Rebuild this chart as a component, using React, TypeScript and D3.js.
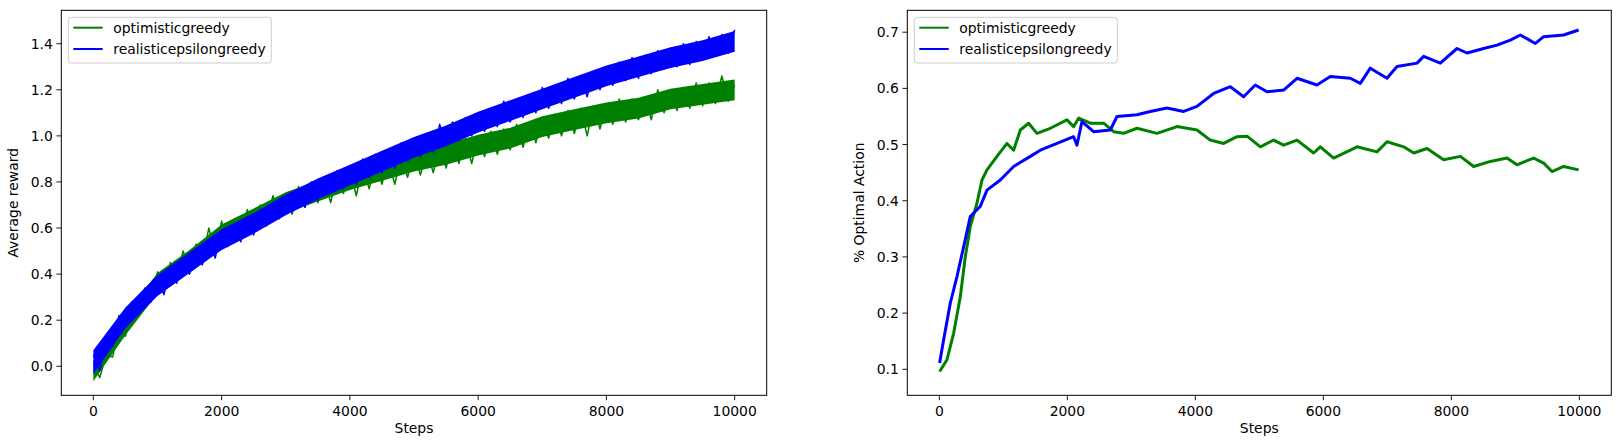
import React from 'react';
import * as d3 from 'd3';

// left panel: average reward, sampled every 100 steps (noise read as high/low zigzag)
const rewardSteps = d3.range(0, 10001, 100);
const rewardOptimistic = [
  0.01, -0.05, 0.05, 0.04, 0.16, 0.13, 0.27, 0.22, 0.34, 0.29,
  0.41, 0.34, 0.45, 0.38, 0.50, 0.42, 0.53, 0.46, 0.60, 0.49,
  0.63, 0.53, 0.64, 0.56, 0.68, 0.59, 0.70, 0.62, 0.74, 0.65,
  0.75, 0.66, 0.78, 0.69, 0.80, 0.71, 0.82, 0.71, 0.83, 0.75,
  0.85, 0.74, 0.87, 0.77, 0.88, 0.79, 0.90, 0.79, 0.91, 0.82,
  0.93, 0.83, 0.94, 0.84, 0.96, 0.86, 0.97, 0.88, 0.99, 0.88,
  1.00, 0.91, 1.02, 0.92, 1.03, 0.94, 1.05, 0.95, 1.06, 0.97,
  1.08, 0.99, 1.09, 1.00, 1.11, 1.01, 1.12, 1.00, 1.13, 1.03,
  1.14, 1.05, 1.16, 1.06, 1.16, 1.07, 1.17, 1.07, 1.20, 1.10,
  1.20, 1.11, 1.21, 1.12, 1.23, 1.13, 1.23, 1.14, 1.26, 1.15,
  1.22,
];
const rewardRealistic = [
  0.05, -0.02, 0.13, 0.09, 0.22, 0.17, 0.28, 0.23, 0.33, 0.28,
  0.38, 0.31, 0.43, 0.36, 0.47, 0.40, 0.51, 0.44, 0.55, 0.47,
  0.59, 0.52, 0.62, 0.54, 0.65, 0.57, 0.68, 0.61, 0.71, 0.64,
  0.74, 0.67, 0.77, 0.69, 0.80, 0.72, 0.82, 0.75, 0.85, 0.77,
  0.87, 0.79, 0.90, 0.82, 0.92, 0.84, 0.94, 0.86, 0.97, 0.89,
  0.99, 0.91, 1.01, 0.93, 1.05, 0.96, 1.06, 0.98, 1.08, 1.00,
  1.10, 1.02, 1.12, 1.04, 1.15, 1.06, 1.16, 1.08, 1.18, 1.10,
  1.21, 1.12, 1.22, 1.14, 1.25, 1.16, 1.26, 1.17, 1.28, 1.20,
  1.30, 1.22, 1.32, 1.24, 1.34, 1.25, 1.35, 1.27, 1.37, 1.29,
  1.38, 1.30, 1.40, 1.31, 1.41, 1.33, 1.43, 1.35, 1.44, 1.36,
  1.46,
];

// visible envelope of each noisy reward band, every 500 steps
const envSteps = d3.range(0, 10001, 500);
const optimisticLow = [-0.065, 0.135, 0.315, 0.415, 0.525, 0.595, 0.665, 0.715, 0.765, 0.805, 0.845, 0.875, 0.915, 0.945, 0.995, 1.025, 1.055, 1.075, 1.115, 1.135, 1.155];
const optimisticHigh = [0.025, 0.225, 0.405, 0.505, 0.615, 0.685, 0.755, 0.805, 0.855, 0.895, 0.935, 0.965, 1.005, 1.035, 1.085, 1.115, 1.145, 1.165, 1.205, 1.225, 1.245];
const realisticLow = [-0.035, 0.165, 0.305, 0.405, 0.505, 0.575, 0.655, 0.725, 0.785, 0.845, 0.905, 0.955, 1.015, 1.065, 1.115, 1.165, 1.215, 1.255, 1.295, 1.325, 1.365];
const realisticHigh = [0.07, 0.255, 0.395, 0.495, 0.595, 0.665, 0.745, 0.815, 0.875, 0.935, 0.995, 1.045, 1.105, 1.155, 1.205, 1.255, 1.305, 1.345, 1.385, 1.415, 1.455];

// right panel: % optimal action
const optimalStepsOpt = [
  5, 120, 224, 328, 406, 484, 589, 667, 745, 901, 1057, 1161, 1266, 1396, 1526, 1734,
  1995, 2099, 2177, 2359, 2568, 2724, 2880, 3089, 3401, 3714, 4026, 4234, 4443, 4651,
  4807, 5016, 5224, 5380, 5589, 5849, 5953, 6161, 6422, 6526, 6839, 6995, 7256, 7412,
  7620, 7880, 8141, 8349, 8609, 8870, 9026, 9287, 9443, 9573, 9755, 9989,
];
const optimalOptimistic = [
  0.096, 0.117, 0.164, 0.229, 0.300, 0.354, 0.396, 0.437, 0.455, 0.479, 0.502, 0.490, 0.526, 0.538, 0.520, 0.529,
  0.544, 0.532, 0.547, 0.538, 0.538, 0.523, 0.520, 0.529, 0.520, 0.532, 0.526, 0.508, 0.502, 0.514,
  0.515, 0.496, 0.508, 0.499, 0.508, 0.485, 0.496, 0.476, 0.490, 0.496, 0.487, 0.505, 0.496, 0.485,
  0.493, 0.473, 0.479, 0.461, 0.470, 0.476, 0.464, 0.476, 0.467, 0.452, 0.461, 0.455,
];
const optimalStepsReal = [
  5, 67, 172, 276, 380, 484, 640, 745, 953, 1161, 1422, 1578, 1839, 2099, 2151, 2229,
  2411, 2672, 2776, 3089, 3297, 3557, 3818, 4026, 4286, 4547, 4755, 4937, 5120, 5380,
  5589, 5901, 6109, 6422, 6578, 6734, 6995, 7151, 7464, 7568, 7828, 8089, 8245, 8505,
  8714, 8922, 9078, 9313, 9443, 9755, 9989,
];
const optimalRealistic = [
  0.111, 0.152, 0.218, 0.265, 0.318, 0.372, 0.390, 0.419, 0.437, 0.461, 0.479, 0.490, 0.502, 0.514, 0.499, 0.541,
  0.523, 0.526, 0.550, 0.553, 0.559, 0.565, 0.559, 0.568, 0.591, 0.603, 0.585, 0.606, 0.594, 0.597,
  0.618, 0.606, 0.621, 0.618, 0.609, 0.636, 0.618, 0.639, 0.645, 0.657, 0.645, 0.671, 0.663, 0.671,
  0.677, 0.686, 0.695, 0.680, 0.692, 0.695, 0.704,
];

const xTicks = [0, 2000, 4000, 6000, 8000, 10000];
const rewardTicks = [0.0, 0.2, 0.4, 0.6, 0.8, 1.0, 1.2, 1.4];
const optimalTicks = [0.1, 0.2, 0.3, 0.4, 0.5, 0.6, 0.7];
const seriesNames = ['optimisticgreedy', 'realisticepsilongreedy'];
const seriesColors = ['green', 'blue'];

const FONT = 'DejaVu Sans, sans-serif';
const TOP = 10.3;
const BOTTOM = 395.3;

interface Band { steps: number[]; low: number[]; high: number[]; }
interface Series { steps: number[]; values: number[]; color: string; band?: Band; }

interface PanelProps {
  left: number;
  right: number;
  yDomain: [number, number];
  yTicks: number[];
  yLabel: string;
  yLabelX: number;
  series: Series[];
  strokeWidth: number;
}

const Panel: React.FC<PanelProps> = ({ left, right, yDomain, yTicks, yLabel, yLabelX, series, strokeWidth }) => {
  const x = d3.scaleLinear().domain([-500, 10499.5]).range([left, right]);
  const y = d3.scaleLinear().domain(yDomain).range([BOTTOM, TOP]);
  const line = d3.line<[number, number]>().x((d) => x(d[0])).y((d) => y(d[1]));
  const midX = (left + right) / 2;
  const midY = (TOP + BOTTOM) / 2;

  // filled band between the read envelopes, so the noisy line reads as a solid ribbon
  const bandPath = (b: Band) =>
    d3
      .area<number>()
      .x((_, i) => x(b.steps[i]))
      .y0((_, i) => y(b.low[i]))
      .y1((_, i) => y(b.high[i]))(b.steps) || '';

  return (
    <g>
      {series.map((s, i) => (
        <g key={i}>
          {s.band && <path d={bandPath(s.band)} fill={s.color} stroke="none" />}
          <path
            d={line(s.steps.map((st, j) => [st, s.values[j]] as [number, number])) || ''}
            fill="none"
            stroke={s.color}
            strokeWidth={strokeWidth}
            strokeLinejoin="round"
          />
        </g>
      ))}
      <rect x={left} y={TOP} width={right - left} height={BOTTOM - TOP} fill="none" stroke="black" strokeWidth={1} />
      {xTicks.map((t) => (
        <g key={t} transform={`translate(${x(t)},${BOTTOM})`}>
          <line y2={4.9} stroke="black" strokeWidth={0.9} />
          <text y={21} textAnchor="middle" fontSize={13.9} fontFamily={FONT} fill="#000">{t}</text>
        </g>
      ))}
      {yTicks.map((t) => (
        <g key={t} transform={`translate(${left},${y(t)})`}>
          <line x2={-4.9} stroke="black" strokeWidth={0.9} />
          <text x={-8.5} y={5} textAnchor="end" fontSize={13.9} fontFamily={FONT} fill="#000">{t.toFixed(1)}</text>
        </g>
      ))}
      <text x={midX} y={433} textAnchor="middle" fontSize={13.9} fontFamily={FONT}>Steps</text>
      <text transform={`translate(${yLabelX},${midY}) rotate(-90)`} textAnchor="middle" fontSize={13.9} fontFamily={FONT}>{yLabel}</text>
      <g transform={`translate(${left + 7},${TOP + 7})`}>
        <rect x={0} y={0} width={203} height={45.7} rx={3} fill="white" fillOpacity={0.8} stroke="#cccccc" strokeWidth={1} />
        {seriesNames.map((n, i) => (
          <g key={n} transform={`translate(0,${10.4 + i * 21.3})`}>
            <line x1={5} x2={34.4} stroke={seriesColors[i]} strokeWidth={2} />
            <text x={45} y={5} fontSize={13.9} fontFamily={FONT} fill="#000">{n}</text>
          </g>
        ))}
      </g>
    </g>
  );
};

export default function App() {
  return (
    <svg width={1621} height={448} style={{ position: 'absolute', left: 0, top: 0, background: 'white' }}>
      <Panel
        left={61.3}
        right={766.7}
        yDomain={[-0.126, 1.545]}
        yTicks={rewardTicks}
        yLabel="Average reward"
        yLabelX={18}
        strokeWidth={1.5}
        series={[
          {
            steps: rewardSteps,
            values: rewardOptimistic,
            color: seriesColors[0],
            band: { steps: envSteps, low: optimisticLow, high: optimisticHigh },
          },
          {
            steps: rewardSteps,
            values: rewardRealistic,
            color: seriesColors[1],
            band: { steps: envSteps, low: realisticLow, high: realisticHigh },
          },
        ]}
      />
      <Panel
        left={907.3}
        right={1611.3}
        yDomain={[0.0537, 0.739]}
        yTicks={optimalTicks}
        yLabel="% Optimal Action"
        yLabelX={864}
        strokeWidth={3}
        series={[
          { steps: optimalStepsOpt, values: optimalOptimistic, color: seriesColors[0] },
          { steps: optimalStepsReal, values: optimalRealistic, color: seriesColors[1] },
        ]}
      />
    </svg>
  );
}
